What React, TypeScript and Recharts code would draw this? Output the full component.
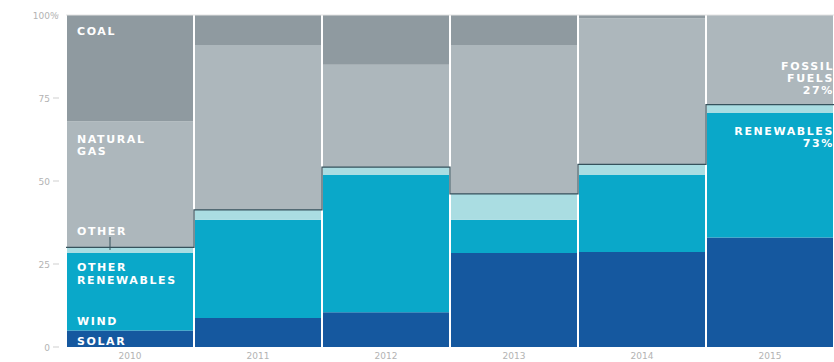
import { Bar, ComposedChart, Line, XAxis, YAxis, ReferenceLine } from "recharts";

// share of new capacity, % per year
const years = ["2010", "2011", "2012", "2013", "2014", "2015"];
const solar = [5, 8.7, 10.5, 28.3, 28.6, 33];
const windAndOtherRenewables = [23.3, 29.6, 41.3, 10, 23.2, 37.5];
const other = [1.7, 3, 2.4, 7.8, 3.2, 2.5];
const naturalGas = [38, 49.7, 30.8, 44.9, 44, 27];
const coal = [32, 9, 15, 9, 1, 0];
const yTicks = [0, 25, 50, 75, 100];

const COLORS = {
  solar: "#15589f",
  wind: "#0aa8c9",
  other: "#aadde2",
  gas: "#adb7bc",
  coal: "#8f9aa0",
  outline: "#36525c",
  tick: "#b3b3b3",
};

const data = years.map((year, i) => ({
  year,
  solar: solar[i],
  wind: windAndOtherRenewables[i],
  other: other[i],
  gas: naturalGas[i],
  coal: coal[i],
}));

// renewables outline as a step across each column
const stepData = years.flatMap((_, i) => {
  const total = solar[i] + windAndOtherRenewables[i] + other[i];
  return [
    { x: i, v: total },
    { x: i + 1, v: total },
  ];
});

const YTick = (props: any) => {
  const { y, payload } = props;
  return (
    <g>
      <text x={50} y={y + 3.5} textAnchor="end" fontSize={9} fill={COLORS.tick} fontFamily="DejaVu Sans">
        {payload.value}
      </text>
      {payload.value === 100 && (
        <text x={50} y={y + 3.5} textAnchor="start" fontSize={9} fill={COLORS.tick} fontFamily="DejaVu Sans">
          %
        </text>
      )}
      <line x1={53} x2={59} y1={y} y2={y} stroke="#cfcfcf" />
    </g>
  );
};

const XTick = (props: any) => {
  const { x, payload } = props;
  return (
    <text x={x} y={359} textAnchor="middle" fontSize={9} fill={COLORS.tick} fontFamily="DejaVu Sans">
      {payload.value}
    </text>
  );
};

const label = {
  fill: "#ffffff",
  fontSize: 11,
  fontWeight: 700,
  letterSpacing: 1.6,
  fontFamily: "DejaVu Sans",
} as const;

export default function App() {
  return (
    <div style={{ position: "absolute", left: 0, top: 0, width: 834, height: 362, background: "#fff" }}>
      <ComposedChart
        width={834}
        height={362}
        data={data}
        margin={{ top: 15, right: 0, bottom: 0, left: 0 }}
        barCategoryGap={1}
      >
        <XAxis xAxisId="cat" dataKey="year" height={15} axisLine={false} tickLine={false} tick={<XTick />} interval={0} />
        <XAxis xAxisId="step" dataKey="x" type="number" domain={[0, 6]} hide />
        <YAxis
          domain={[0, 100]}
          ticks={yTicks}
          width={66}
          axisLine={false}
          tickLine={false}
          tick={<YTick />}
          interval={0}
        />
        <ReferenceLine xAxisId="cat" y={100} stroke="#e2e2e2" />
        <Bar xAxisId="cat" dataKey="solar" stackId="a" fill={COLORS.solar} isAnimationActive={false} />
        <Bar xAxisId="cat" dataKey="wind" stackId="a" fill={COLORS.wind} isAnimationActive={false} />
        <Bar xAxisId="cat" dataKey="other" stackId="a" fill={COLORS.other} isAnimationActive={false} />
        <Bar xAxisId="cat" dataKey="gas" stackId="a" fill={COLORS.gas} isAnimationActive={false} />
        <Bar xAxisId="cat" dataKey="coal" stackId="a" fill={COLORS.coal} isAnimationActive={false} />
        <Line
          xAxisId="step"
          data={stepData}
          dataKey="v"
          type="linear"
          stroke={COLORS.outline}
          strokeWidth={1.3}
          dot={false}
          activeDot={false}
          isAnimationActive={false}
        />
      </ComposedChart>

      {/* annotations */}
      <svg width={834} height={362} style={{ position: "absolute", left: 0, top: 0, pointerEvents: "none" }}>
        <text x={77} y={35} {...label}>COAL</text>
        <text x={77} y={143} {...label}>NATURAL</text>
        <text x={77} y={155} {...label}>GAS</text>
        <text x={77} y={235} {...label}>OTHER</text>
        <line x1={110} x2={110} y1={237} y2={250} stroke={COLORS.outline} strokeWidth={1} />
        <text x={77} y={271} {...label}>OTHER</text>
        <text x={77} y={284} {...label}>RENEWABLES</text>
        <text x={77} y={325} {...label}>WIND</text>
        <text x={77} y={345} {...label}>SOLAR</text>

        <text x={834} y={70} textAnchor="end" {...label}>FOSSIL</text>
        <text x={834} y={82} textAnchor="end" {...label}>FUELS</text>
        <text x={834} y={94} textAnchor="end" {...label}>27%</text>
        <text x={834} y={135} textAnchor="end" {...label}>RENEWABLES</text>
        <text x={834} y={147} textAnchor="end" {...label}>73%</text>
      </svg>
    </div>
  );
}
